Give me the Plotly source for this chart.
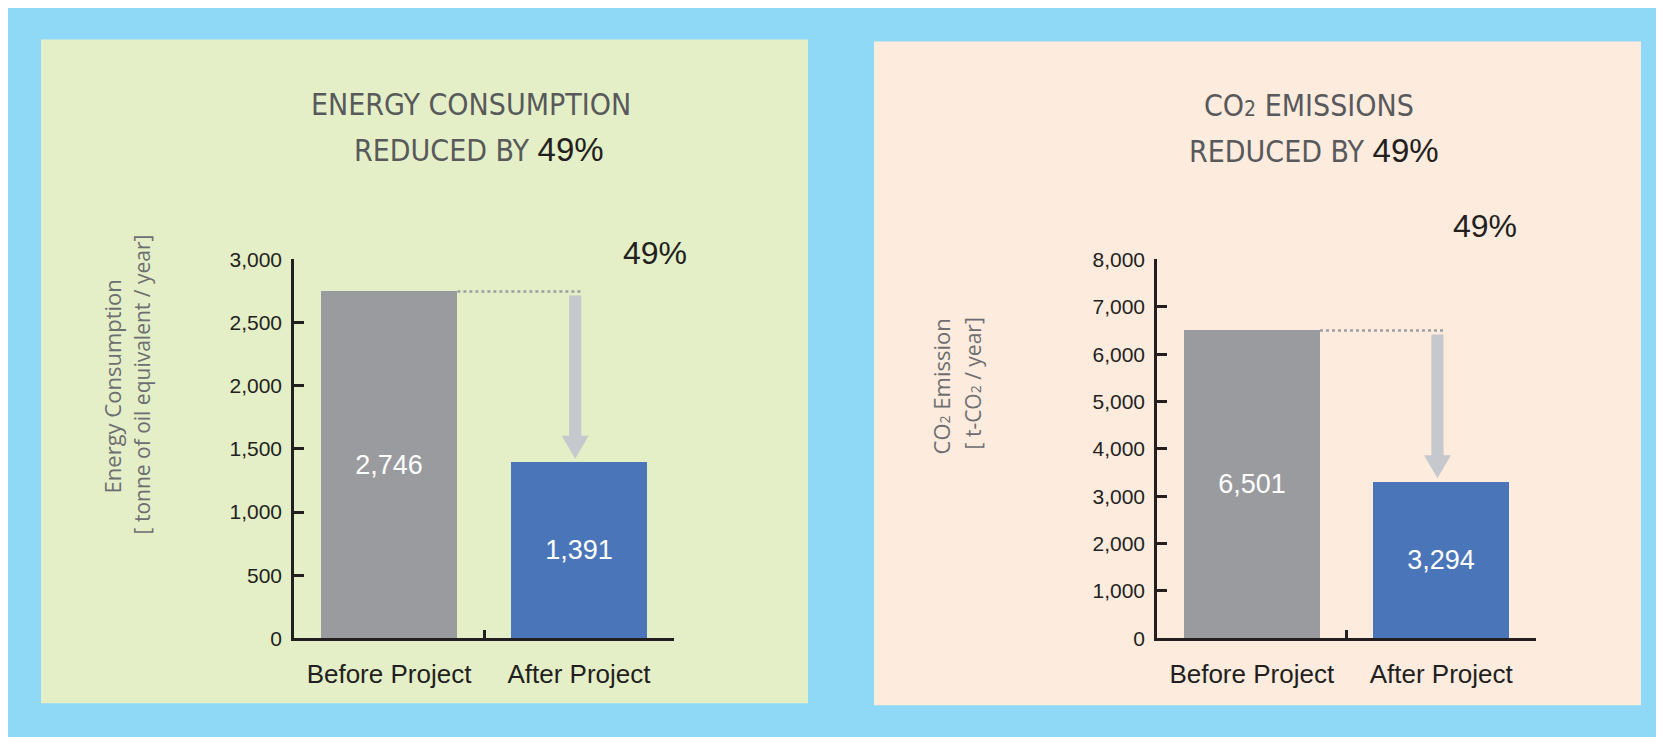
import plotly.graph_objects as go

# ---------------- data ----------------
categories = ["Before Project", "After Project"]
energy_values = [2746, 1391]
co2_values = [6501, 3294]
energy_ticks = [0, 500, 1000, 1500, 2000, 2500, 3000]
co2_ticks = [0, 1000, 2000, 3000, 4000, 5000, 6000, 7000, 8000]
reduction_pct = [49, 49]
energy_range = [0, 3000]
co2_range = [0, 8000]

# ---------------- style ----------------
W, H = 1664, 737
OUTER = "#8fd8f6"
PANEL_L = "#e4efc7"
PANEL_R = "#fdebde"
GRAY_BAR = "#9a9b9f"
BLUE_BAR = "#4a76b9"
ARROW = "#c5c8cc"
AXIS = "#231f20"
TITLE_GRAY = "#58595b"
YTITLE_GRAY = "#6d6e71"
NARROW = "Liberation Sans Narrow, Arial Narrow, DejaVu Sans Condensed, sans-serif"
SANS = "Liberation Sans, Arial, sans-serif"
MYRIAD = "Open Sans, Noto Sans, sans-serif"

# page-placement compensation (target pixel -> paper fraction)
OX, OY, SY = 8.0, 19.5, 0.969


def px(x):
    return (x - OX) / W


def py(y):
    return 1 - ((y - OY) / SY) / H


fig = go.Figure()

panels = [
    dict(values=energy_values, xa="x", ya="y", rng=energy_range, ticks=energy_ticks,
         xdom=[px(294), px(674)]),
    dict(values=co2_values, xa="x2", ya="y2", rng=co2_range, ticks=co2_ticks,
         xdom=[px(1157), px(1536)]),
]
ydom = [py(638), py(259)]
plot_h = 638 - 259

for p in panels:
    fig.add_trace(go.Bar(
        x=categories, y=p["values"], xaxis=p["xa"], yaxis=p["ya"],
        width=0.72,
        marker=dict(color=[GRAY_BAR, BLUE_BAR], line=dict(width=0)),
        text=[f"{v:,}" for v in p["values"]],
        textposition="inside", insidetextanchor="middle", textangle=0,
        textfont=dict(family=SANS, size=27, color="white"),
        hoverinfo="skip", showlegend=False,
    ))

shapes = [
    dict(type="rect", xref="paper", yref="paper", x0=px(41), x1=px(808), y0=py(703), y1=py(39),
         fillcolor=PANEL_L, line=dict(width=0), layer="below"),
    dict(type="rect", xref="paper", yref="paper", x0=px(874), x1=px(1641), y0=py(705), y1=py(41),
         fillcolor=PANEL_R, line=dict(width=0), layer="below"),
]

for p in panels:
    before, after = p["values"]
    per_px = (p["rng"][1] - p["rng"][0]) / plot_h
    xc = 0.98
    shaft_half = 0.032
    head_half = 0.071
    top = before - 4 * per_px
    tip = after + 4 * per_px
    head_base = tip + 23 * per_px
    shapes.append(dict(type="line", xref=p["xa"], yref=p["ya"], x0=0.36, x1=1.01, y0=before, y1=before,
                       line=dict(color="#9c9ea1", width=2.5, dash="dot"), layer="above"))
    path = (f"M {xc - shaft_half} {top} L {xc + shaft_half} {top} L {xc + shaft_half} {head_base} "
            f"L {xc + head_half} {head_base} L {xc} {tip} L {xc - head_half} {head_base} "
            f"L {xc - shaft_half} {head_base} Z")
    shapes.append(dict(type="path", xref=p["xa"], yref=p["ya"], path=path,
                       fillcolor=ARROW, line=dict(width=0), layer="above"))

annotations = []


def ann(x, y, text, size, color, family, angle=0):
    annotations.append(dict(x=px(x), y=py(y), xref="paper", yref="paper", text=text, showarrow=False,
                            xanchor="center", yanchor="middle", textangle=angle,
                            font=dict(size=size, color=color, family=family)))


def pct_span(v):
    return ("<span style='font-family:Liberation Sans, Arial, sans-serif;font-size:33px;color:#231f20'>"
            f"{v}%</span>")


# left titles
ann(471, 104, "ENERGY CONSUMPTION", 30, TITLE_GRAY, NARROW)
ann(479, 149, "REDUCED BY " + pct_span(reduction_pct[0]), 30, TITLE_GRAY, NARROW)
ann(655, 253, f"{reduction_pct[0]}%", 32, AXIS, SANS)
# right titles
ann(1309, 105, "CO<span style='font-size:21px'>2</span> EMISSIONS", 30, TITLE_GRAY, NARROW)
ann(1314, 150, "REDUCED BY " + pct_span(reduction_pct[1]), 30, TITLE_GRAY, NARROW)
ann(1485, 226, f"{reduction_pct[1]}%", 32, AXIS, SANS)
# y-axis titles
ann(112, 386, "Energy Consumption", 22, YTITLE_GRAY, MYRIAD, -90)
ann(142, 384, "[ tonne of oil equivalent / year]", 21, YTITLE_GRAY, MYRIAD, -90)
ann(941, 386, "CO<span style='font-size:14px'>2</span> Emission", 22, YTITLE_GRAY, MYRIAD, -90)
ann(973, 383, "[ t-CO<span style='font-size:14px'>2</span> / year]", 21, YTITLE_GRAY, MYRIAD, -90)

xaxis_common = dict(type="category", range=[-0.5, 1.5], showline=True, linecolor=AXIS, linewidth=2.5,
                    ticks="inside", tickson="boundaries", ticklen=9, tickwidth=2.5, tickcolor=AXIS,
                    showgrid=False, zeroline=False, fixedrange=True,
                    tickfont=dict(family=SANS, size=26, color=AXIS), ticklabelstandoff=11)
yaxis_common = dict(showline=True, linecolor=AXIS, linewidth=2.5, ticks="inside", ticklen=10,
                    tickwidth=2.5, tickcolor=AXIS, showgrid=False, zeroline=False, fixedrange=True,
                    tickformat=",d", tickfont=dict(family=SANS, size=21, color=AXIS),
                    ticklabelstandoff=5, domain=ydom)

fig.update_layout(
    width=W, height=H, margin=dict(l=0, r=0, t=0, b=0),
    paper_bgcolor=OUTER, plot_bgcolor="rgba(0,0,0,0)",
    showlegend=False, bargap=0,
    xaxis=dict(xaxis_common, domain=panels[0]["xdom"], anchor="y"),
    yaxis=dict(yaxis_common, range=energy_range, tickvals=energy_ticks, anchor="x"),
    xaxis2=dict(xaxis_common, domain=panels[1]["xdom"], anchor="y2"),
    yaxis2=dict(yaxis_common, range=co2_range, tickvals=co2_ticks, anchor="x2"),
    shapes=shapes, annotations=annotations,
)

fig.write_html("out.html")
